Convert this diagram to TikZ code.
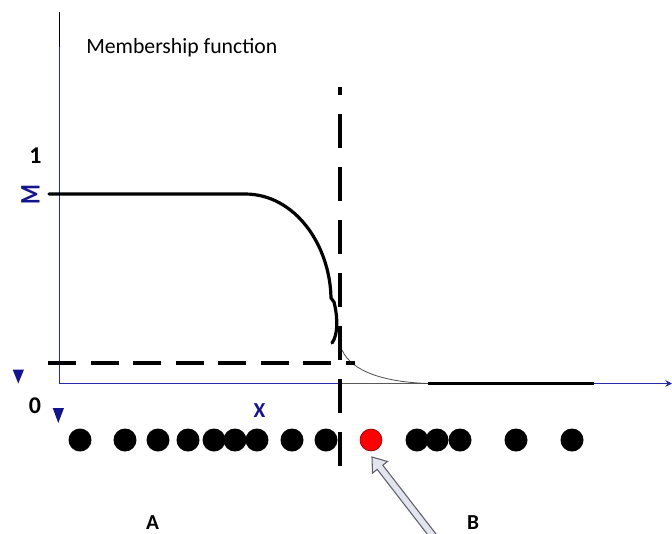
\documentclass[tikz,border=0pt]{standalone}
\usepackage{fontspec}
\setmainfont{Carlito}
\usetikzlibrary{arrows.meta}
\definecolor{axisblue}{RGB}{40,40,170}
\definecolor{labelblue}{RGB}{20,20,140}
\definecolor{arrowfill}{RGB}{226,229,237}
\definecolor{arrowedge}{RGB}{95,95,105}
\begin{document}
\begin{tikzpicture}[x=0.75pt,y=-0.75pt,
  axisline/.style={draw=axisblue, line width=0.75pt},
  mfcurve/.style={line width=2.4pt, line cap=round, line join=round},
  sample/.style={circle, fill=black, minimum size=17.25pt, inner sep=0pt},
  outlier/.style={circle, fill=red, draw=red!55!black, line width=0.5pt, minimum size=16.5pt, inner sep=0pt},
  lbl/.style={font=\fontsize{16}{18}\selectfont\bfseries, inner sep=0pt, text depth=0pt},
  digit/.style={font=\fontsize{18}{20}\selectfont\bfseries, inner sep=0pt},
  marker/.style={fill=labelblue},
]
\useasboundingbox (0,0) rectangle (672,533);

% axes
\draw[black, line width=0.75pt] (59,12) -- (59,47);
\draw[axisline] (59,47) -- (59,383.5) -- (340,383.5);
\draw[draw=black!65, line width=0.75pt] (340,383.5) -- (594,383.5);
\draw[axisline, -{Stealth[length=5pt,width=5pt]}] (594,383.5) -- (672,383.5);

% axis texts
\node[anchor=base west, inner sep=0pt, font=\fontsize{16.3}{19}\selectfont] (title) at (86,53) {Membership function};
\node[digit, anchor=base] (one) at (35.5,163) {1};
\node[digit, anchor=base] (zero) at (35,413.5) {0};
\node[text=labelblue, inner sep=0pt, rotate=90, font=\fontsize{17}{19}\selectfont\bfseries] (mu) at (30.5,194.5) {\scalebox{1}[1.25]{M}};
\node[lbl, text=labelblue, anchor=base] (xlab) at (259.5,417) {X};
\fill[marker] (12.7,369.5) -- (24,369.5) -- (18.3,383.5) -- cycle;
\fill[marker] (52.7,408) -- (64,408) -- (58.3,423) -- cycle;

% membership function
\draw[mfcurve] (49,194) -- (245,194) .. controls (295,194) and (330,245) .. (331,298)
  -- (334,302) .. controls (338,318) and (338,335) .. (332,343);
\draw[draw=black!70, line width=0.6pt] (342,350) .. controls (352,372) and (385,382) .. (428,383.5);
\draw[line width=2.6pt] (428,383.5) -- (594,383.5);

% threshold
\draw[line width=2.6pt, dash pattern=on 21pt off 10.9pt] (48,363) -- (355,363);

% samples
\foreach \px [count=\i] in {80,125,158,188,214,235,257,292,326}
  \node[sample] (s\i) at (\px,440) {};
\node[outlier] (red) at (371,440) {};
\foreach \px [count=\i from 10] in {417,437,460,516,572}
  \node[sample] (s\i) at (\px,440) {};

% boundary
\draw[line width=3.6pt, dash pattern=on 25.5pt off 14.25pt, dash phase=19.5pt] (340,87) -- (340,470);

% pointer to the outlier
\begin{scope}
\clip (0,0) rectangle (672,533);
\filldraw[fill=arrowfill, draw=arrowedge, line width=0.8pt, line join=miter]
  (372,457) -- (387.5,461.5) -- (382.8,465.2) -- (436,534) -- (430.4,538.2)
  -- (377.2,469.4) -- (372.5,473.1) -- cycle;
\end{scope}

\node[lbl, anchor=base] (A) at (152.5,529.5) {A};
\node[lbl, anchor=base] (B) at (473,529.5) {B};
\end{tikzpicture}
\end{document}
